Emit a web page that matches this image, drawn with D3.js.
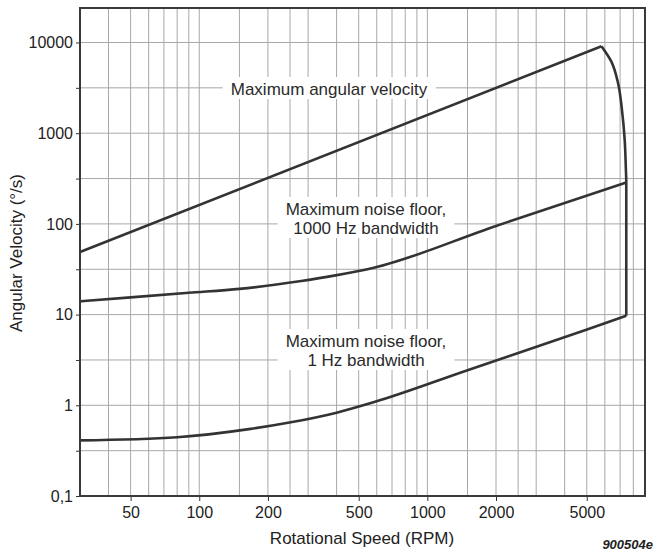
<!DOCTYPE html>
<html>
<head>
<meta charset="utf-8">
<script src="https://cdn.jsdelivr.net/npm/d3@7"></script>
<style>
  body { margin: 0; background: #fff; }
  svg { display: block; font-family: "Liberation Sans", Arial, Helvetica, sans-serif; }
</style>
</head>
<body>
<svg id="chart" width="654" height="552"></svg>
<script>
// values (RPM -> deg/s)
var maxVelRpm = [30, 5800];
var maxVelVal = [49, 9100];
var rolloffRpm = [5800, 6400, 6850, 7130, 7330, 7420, 7450, 7450];
var rolloffVal = [9100, 6200, 3600, 1820, 850, 400, 286, 9.7];
var noise1000Rpm = [30, 50, 90, 150, 280, 390, 577, 2000, 7450];
var noise1000Val = [14, 15.5, 17.4, 19.2, 23.5, 26.9, 32.7, 95, 286];
var noise1Rpm = [30, 80, 168, 252, 400, 580, 1500, 5050, 7450];
var noise1Val = [0.41, 0.445, 0.55, 0.65, 0.83, 1.08, 2.44, 6.9, 9.7];

var xTicks = [50, 100, 200, 500, 1000, 2000, 5000];
var xTickLabels = ["50", "100", "200", "500", "1000", "2000", "5000"];
var xGrid = [40, 50, 60, 70, 80, 90, 100, 150, 200, 250, 300, 400, 500, 600, 700, 800, 900,
             1000, 1500, 2000, 2500, 3000, 4000, 5000, 6000, 7000, 8000];
var yTicks = [0.1, 1, 10, 100, 1000, 10000];
var yTickLabels = ["0,1", "1", "10", "100", "1000", "10000"];
var yHalf = [0.316, 3.16, 31.6, 316, 3162];

var svg = d3.select("#chart");
var x = d3.scaleLog().domain([30, 9000]).range([80, 645]);
var y = d3.scaleLog().domain([0.1, 24000]).range([496, 8]);

function pairs(a, b) { return a.map(function (v, i) { return [v, b[i]]; }); }

// grid
var grid = svg.append("g").attr("class", "grid")
    .attr("stroke", "#a8a8a8").attr("stroke-width", 1);
grid.selectAll("line.v").data(xGrid).enter().append("line")
    .attr("x1", function (d) { return x(d); }).attr("x2", function (d) { return x(d); })
    .attr("y1", y.range()[1]).attr("y2", y.range()[0]);
grid.selectAll("line.h").data(yTicks.concat(yHalf)).enter().append("line")
    .attr("y1", function (d) { return y(d); }).attr("y2", function (d) { return y(d); })
    .attr("x1", x.range()[0]).attr("x2", x.range()[1]);

// axes (tick marks + labels only, frame drawn separately)
var xAxis = d3.axisBottom(x).tickValues(xTicks).tickSize(5).tickPadding(6)
    .tickFormat(function (d, i) { return xTickLabels[i]; });
svg.append("g").attr("transform", "translate(0," + y.range()[0] + ")").call(xAxis)
    .call(function (g) { g.select(".domain").remove(); })
    .call(function (g) {
        g.selectAll("line").attr("stroke", "#333");
        g.selectAll("text").attr("font-size", 16).attr("fill", "#222").attr("font-family", null);
    });

var yAxis = d3.axisLeft(y).tickValues(yTicks.concat(yHalf)).tickSize(4).tickPadding(3)
    .tickFormat(function (d) { var i = yTicks.indexOf(d); return i < 0 ? "" : yTickLabels[i]; });
svg.append("g").attr("transform", "translate(" + x.range()[0] + ",0)").call(yAxis)
    .call(function (g) { g.select(".domain").remove(); })
    .call(function (g) {
        g.selectAll("line").attr("stroke", "#333");
        g.selectAll("text").attr("font-size", 16).attr("fill", "#222").attr("font-family", null);
    });

// annotations with white boxes masking the grid
var notes = [
    { lines: ["Maximum angular velocity"], cx: 329, y0: 95 },
    { lines: ["Maximum noise floor,", "1000 Hz bandwidth"], cx: 366, y0: 215 },
    { lines: ["Maximum noise floor,", "1 Hz bandwidth"], cx: 366, y0: 347 }
];
var noteG = svg.append("g");
notes.forEach(function (n) {
    var g = noteG.append("g");
    var rect = g.append("rect").attr("fill", "#fff");
    var t = g.append("text").attr("text-anchor", "middle").attr("font-size", 17).attr("fill", "#2a2a2a");
    n.lines.forEach(function (s, i) {
        t.append("tspan").attr("x", n.cx).attr("y", n.y0 + i * 19).text(s);
    });
    var b = t.node().getBBox();
    rect.attr("x", b.x - 8).attr("y", b.y - 3).attr("width", b.width + 16).attr("height", b.height + 3);
});

// curves
var line = d3.line().x(function (d) { return x(d[0]); }).y(function (d) { return y(d[1]); });
var curves = svg.append("g").attr("fill", "none").attr("stroke", "#333")
    .attr("stroke-width", 2.6).attr("stroke-linejoin", "round");
curves.append("path").attr("d", line(pairs(maxVelRpm, maxVelVal)));
curves.append("path").attr("d", line.curve(d3.curveMonotoneY)(pairs(rolloffRpm, rolloffVal)));
curves.append("path").attr("d", line.curve(d3.curveMonotoneX)(pairs(noise1000Rpm, noise1000Val)));
curves.append("path").attr("d", line.curve(d3.curveMonotoneX)(pairs(noise1Rpm, noise1Val)));

// frame
svg.append("rect")
    .attr("x", x.range()[0]).attr("y", y.range()[1])
    .attr("width", x.range()[1] - x.range()[0]).attr("height", y.range()[0] - y.range()[1])
    .attr("fill", "none").attr("stroke", "#3a3a3a").attr("stroke-width", 2);

// titles
svg.append("text").attr("x", 362).attr("y", 544).attr("text-anchor", "middle")
    .attr("font-size", 17).attr("fill", "#222").text("Rotational Speed (RPM)");
svg.append("text").attr("transform", "translate(22,253) rotate(-90)").attr("text-anchor", "middle")
    .attr("font-size", 17).attr("fill", "#222").text("Angular Velocity (°/s)");
svg.append("text").attr("x", 653).attr("y", 549).attr("text-anchor", "end")
    .attr("font-size", 13).attr("font-style", "italic").attr("font-weight", "bold")
    .attr("fill", "#222").text("900504e");
</script>
</body>
</html>
